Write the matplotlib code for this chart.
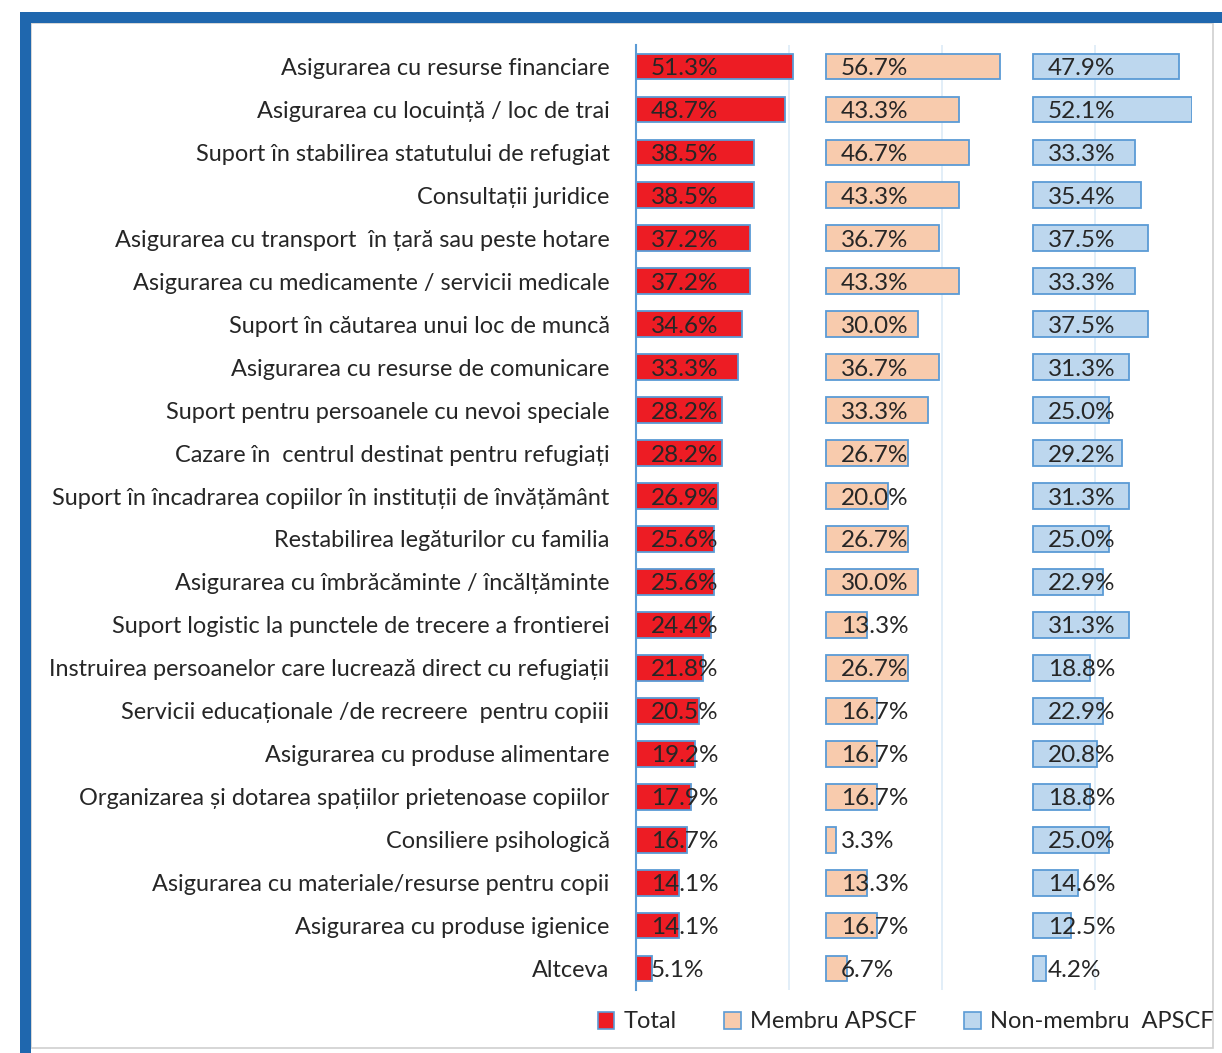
import matplotlib.pyplot as plt
from matplotlib.patches import Rectangle, Patch

plt.rcParams['font.family'] = ['Lato', 'DejaVu Sans']

# categorii (de sus in jos)
categories = [
    "Asigurarea cu resurse financiare",
    "Asigurarea cu locuință / loc de trai",
    "Suport în stabilirea statutului de refugiat",
    "Consultații juridice",
    "Asigurarea cu transport  în țară sau peste hotare",
    "Asigurarea cu medicamente / servicii medicale",
    "Suport în căutarea unui loc de muncă",
    "Asigurarea cu resurse de comunicare",
    "Suport pentru persoanele cu nevoi speciale",
    "Cazare în  centrul destinat pentru refugiați",
    "Suport în încadrarea copiilor în instituții de învățământ",
    "Restabilirea legăturilor cu familia",
    "Asigurarea cu îmbrăcăminte / încălțăminte",
    "Suport logistic la punctele de trecere a frontierei",
    "Instruirea persoanelor care lucrează direct cu refugiații",
    "Servicii educaționale /de recreere  pentru copiii",
    "Asigurarea cu produse alimentare",
    "Organizarea și dotarea spațiilor prietenoase copiilor",
    "Consiliere psihologică",
    "Asigurarea cu materiale/resurse pentru copii",
    "Asigurarea cu produse igienice",
    "Altceva",
]

total = [51.3, 48.7, 38.5, 38.5, 37.2, 37.2, 34.6, 33.3, 28.2, 28.2, 26.9,
         25.6, 25.6, 24.4, 21.8, 20.5, 19.2, 17.9, 16.7, 14.1, 14.1, 5.1]
membru = [56.7, 43.3, 46.7, 43.3, 36.7, 43.3, 30.0, 36.7, 33.3, 26.7, 20.0,
          26.7, 30.0, 13.3, 26.7, 16.7, 16.7, 16.7, 3.3, 13.3, 16.7, 6.7]
non_membru = [47.9, 52.1, 33.3, 35.4, 37.5, 33.3, 37.5, 31.3, 25.0, 29.2, 31.3,
              25.0, 22.9, 31.3, 18.8, 22.9, 20.8, 18.8, 25.0, 14.6, 12.5, 4.2]

series_names = ["Total", "Membru APSCF", "Non-membru  APSCF"]
offsets = [0, 62.2, 129.7]
colors = ["#ED1C24", "#F8CBAD", "#BDD7EE"]
edge = "#5B9BD5"

W, H = 1222, 1053
fig = plt.figure(figsize=(W / 100, H / 100), dpi=100)

# cadru
fig.patches.append(Rectangle((31 / W, 5 / H), (1213 - 31) / W, (1030 - 5) / H,
                             transform=fig.transFigure, fill=False,
                             edgecolor="#D0D0D0", lw=1.2))
fig.patches.append(Rectangle((20 / W, 0), 11 / W, 1 - 12 / H,
                             transform=fig.transFigure, color="#1F67AE", lw=0))
fig.patches.append(Rectangle((20 / W, 1 - 23 / H), 1 - 20 / W, 11 / H,
                             transform=fig.transFigure, color="#1F67AE", lw=0))

ax = fig.add_axes([636 / W, 1 - 990 / H, (1192 - 636) / W, (990 - 45) / H])
y = list(range(len(categories)))

for vals, off, col in zip([total, membru, non_membru], offsets, colors):
    ax.barh(y, vals, left=off, height=0.6, color=col, edgecolor=edge,
            linewidth=1.3, zorder=3)
    for yi, v in zip(y, vals):
        ax.text(off + 4.8, yi, f"{v:.1f}%", va="center_baseline", ha="left",
                fontsize=17.5, color="#262626", zorder=4)

ax.set_xlim(0, 181.7)
ax.set_ylim(len(categories) - 0.5, -0.5)
ax.set_yticks(y)
ax.set_yticklabels(categories, fontsize=16.9, color="#262626")
ax.tick_params(axis="y", length=0, pad=19)
ax.set_xticks([50, 100, 150])
ax.tick_params(axis="x", length=0, labelbottom=False)
ax.grid(axis="x", color="#DDEBF7", lw=1.2, zorder=0)
for s in ["top", "right", "bottom"]:
    ax.spines[s].set_visible(False)
ax.spines["left"].set_color(edge)
ax.spines["left"].set_linewidth(1.5)
ax.spines["left"].set_zorder(5)

handles = [Patch(facecolor=c, edgecolor=edge, lw=1.2) for c in colors]
fig.legend(handles, series_names, loc="center", bbox_to_anchor=(906 / W, 1 - 1022 / H),
           ncol=3, frameon=False, fontsize=17, handlelength=0.7, handleheight=0.7,
           handletextpad=0.4, columnspacing=2.0, labelcolor="#262626")

fig.savefig("out.png", dpi=100, facecolor="white")
